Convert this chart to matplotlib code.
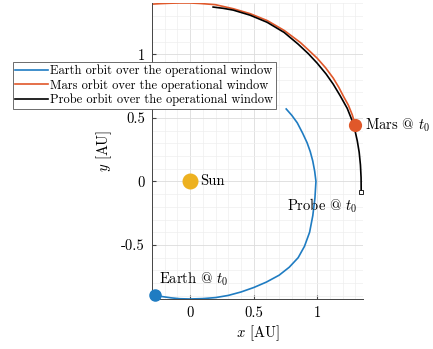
import matplotlib
matplotlib.use("Agg")
import matplotlib.pyplot as plt
from matplotlib.ticker import MultipleLocator

plt.rcParams.update({
    "font.family": ["cmr10", "DejaVu Serif"],
    "mathtext.fontset": "cm",
    "axes.formatter.use_mathtext": True,
    "font.size": 10.5,
})

# trajectories over the operational window [AU]
earth_x = [-0.276, -0.22, -0.15, -0.08, 0.0, 0.10, 0.20, 0.30, 0.40, 0.50, 0.60, 0.70,
           0.78, 0.85, 0.90, 0.94, 0.965, 0.982, 0.99, 0.98, 0.965, 0.945, 0.92, 0.885,
           0.843, 0.80, 0.756]
earth_y = [-0.891, -0.906, -0.916, -0.923, -0.925, -0.922, -0.914, -0.897, -0.870, -0.835,
           -0.792, -0.738, -0.675, -0.600, -0.510, -0.400, -0.270, -0.130, 0.0, 0.08,
           0.16, 0.235, 0.305, 0.38, 0.461, 0.52, 0.57]

mars_x = [-0.299, -0.23, -0.157, -0.08, 0.0, 0.079, 0.197, 0.339, 0.472, 0.606, 0.740,
          0.866, 0.93, 1.0, 1.065, 1.126, 1.17, 1.205, 1.245, 1.276, 1.299]
mars_y = [1.395, 1.399, 1.402, 1.404, 1.404, 1.400, 1.391, 1.359, 1.320, 1.266, 1.188,
          1.094, 1.035, 0.969, 0.895, 0.813, 0.740, 0.672, 0.600, 0.523, 0.445]

probe_x = [0.181, 0.26, 0.339, 0.472, 0.606, 0.740, 0.850, 0.93, 1.0, 1.07, 1.126,
           1.18, 1.236, 1.27, 1.295, 1.315, 1.33, 1.34, 1.345, 1.346]
probe_y = [1.372, 1.362, 1.348, 1.308, 1.252, 1.172, 1.080, 1.005, 0.930, 0.845, 0.765,
           0.675, 0.575, 0.490, 0.410, 0.320, 0.230, 0.130, 0.030, -0.086]

sun = (0.0, 0.0)
earth_t0 = (earth_x[0], earth_y[0])
mars_t0 = (mars_x[-1], mars_y[-1])
probe_t0 = (probe_x[-1], probe_y[-1])

c_earth = "#1f7cc2"
c_mars = "#e0582a"
c_sun = "#EDB120"

fig = plt.figure(figsize=(4.33, 3.49), dpi=100)
ax = fig.add_axes([0.351, 0.1433, 0.4873, 0.8467])

ax.plot(earth_x, earth_y, color=c_earth, lw=1.2,
        label="Earth orbit over the operational window")
ax.plot(mars_x, mars_y, color=c_mars, lw=1.2,
        label="Mars orbit over the operational window")
ax.plot(probe_x, probe_y, color="black", lw=1.2,
        label="Probe orbit over the operational window")

ax.plot(*sun, "o", color=c_sun, ms=10.5, zorder=5)
ax.plot(*earth_t0, "o", color=c_earth, ms=8, zorder=5, clip_on=False)
ax.plot(*mars_t0, "o", color=c_mars, ms=8.5, zorder=5)
ax.plot(*probe_t0, "s", color="black", mfc="white", ms=2.5, mew=0.6, zorder=5, clip_on=False)

ax.text(sun[0] + 0.075, sun[1], "Sun", va="center", ha="left")
ax.text(earth_t0[0] + 0.03, earth_t0[1] + 0.055, r"Earth @ $t_0$", va="bottom", ha="left")
ax.text(mars_t0[0] + 0.08, mars_t0[1], r"Mars @ $t_0$", va="center", ha="left", clip_on=False)
ax.text(probe_t0[0] - 0.03, probe_t0[1] - 0.03, r"Probe @ $t_0$", va="top", ha="right")

ax.set_xlim(-0.30, 1.36)
ax.set_ylim(-0.925, 1.40)
ax.xaxis.set_minor_locator(MultipleLocator(0.1))
ax.yaxis.set_minor_locator(MultipleLocator(0.1))
ax.set_xticks([0, 0.5, 1])
ax.set_xticklabels(["0", "0.5", "1"])
ax.set_yticks([-0.5, 0, 0.5, 1])
ax.set_yticklabels(["-0.5", "0", "0.5", "1"])

ax.grid(which="major", color="#dcdcdc", lw=0.6)
ax.grid(which="minor", color="#eeeeee", lw=0.5)
ax.set_axisbelow(True)
ax.tick_params(which="both", direction="in", length=3, color="#444444", pad=5)
ax.tick_params(which="minor", length=0)
for side in ("top", "right"):
    ax.spines[side].set_visible(False)
for side in ("left", "bottom"):
    ax.spines[side].set_color("#444444")
    ax.spines[side].set_linewidth(0.7)

ax.set_xlabel(r"$x$ [AU]", labelpad=3)
ax.set_ylabel(r"$y$ [AU]", labelpad=5)

leg = fig.legend(loc="upper left", bbox_to_anchor=(0.03, 0.822), fancybox=False,
                 framealpha=1, edgecolor="#555555", handlelength=2.6,
                 handletextpad=0.2, labelspacing=0.15, borderpad=0.2,
                 borderaxespad=0, fontsize=9)
leg.get_frame().set_linewidth(0.6)

fig.savefig("out.png", dpi=100)
